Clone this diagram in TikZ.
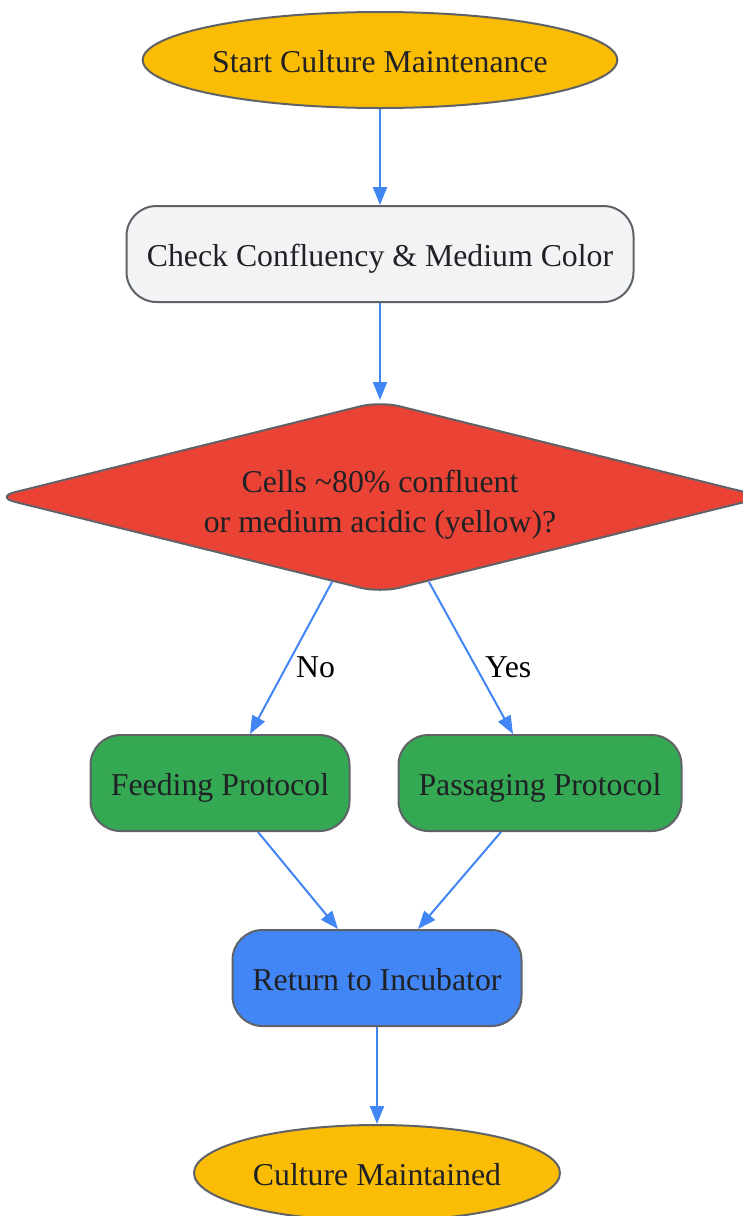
\documentclass[tikz,border=0pt]{standalone}
\usepackage{fontspec}
\setmainfont{Liberation Serif}
\usetikzlibrary{calc,shapes.geometric,arrows.meta,backgrounds}
\definecolor{gyellow}{HTML}{FBBC04}
\definecolor{glight}{HTML}{F1F3F4}
\definecolor{gred}{HTML}{EA4335}
\definecolor{ggreen}{HTML}{34A853}
\definecolor{gblue}{HTML}{4285F4}
\definecolor{gborder}{HTML}{5F6368}
\definecolor{gtext}{HTML}{202124}
\def\drawflow{\draw[color=gblue, line width=2pt, -{Triangle[length=18pt,width=14pt]}]}
\def\termnode{\node[ellipse,draw=gborder,line width=2pt,fill=gyellow,text=gtext,minimum height=96pt,text height=25pt,text depth=0pt]}
\def\stepnode{\node[rectangle,rounded corners=30pt,draw=gborder,line width=2pt,text=gtext,minimum height=96pt,text height=25pt,text depth=0pt]}
\tikzset{edgelabel/.style={pos=.56,anchor=west,text=black}}

\begin{document}
\begin{tikzpicture}[x=1pt,y=-1pt,inner sep=0pt,font=\fontsize{31.8}{40}\selectfont]
\useasboundingbox (0,0) rectangle (743,1216);

% -------- top of the chart ---------
\termnode[minimum width=474pt] (start) at (380,60) {Start Culture Maintenance};
\stepnode[fill=glight,minimum width=507pt] (check) at (380,254) {Check Confluency \& Medium Color};
\node[diamond,aspect=4,draw=gborder,line width=2pt,fill=gred,text=gtext,rounded corners=20pt,
  minimum width=770pt,minimum height=192pt] (dec) at (380,497)
  {\raisebox{-14pt}[0pt][0pt]{\begin{tabular}{@{}c@{}}Cells \textasciitilde80\% confluent\\or medium acidic (yellow)?\end{tabular}}};

% -------- the two protocols ---------
\stepnode[fill=ggreen,minimum width=259pt] (feed) at (220,783) {Feeding Protocol};
\stepnode[fill=ggreen,minimum width=283pt] (pass) at (540,783) {Passaging Protocol};

% -------- bottom of the chart ---------
\stepnode[fill=gblue,minimum width=289pt] (ret) at (377,978) {Return to Incubator};
\termnode[minimum width=366pt] (done) at (377,1173) {Culture Maintained};

% Now the arrows, kept under the shapes
\begin{scope}[on background layer]
\drawflow (start) -- (check);
\drawflow (check) -- (dec);
\drawflow ([xshift=-48pt,yshift=12pt]dec.south) -- node[edgelabel,xshift=9pt] {No} ([xshift=30pt]feed.north);
\drawflow ([xshift=49pt,yshift=12pt]dec.south) -- node[edgelabel,xshift=8pt] {Yes} ([xshift=-27pt]pass.north);
\drawflow ([xshift=38pt]feed.south) -- ([xshift=-39pt]ret.north);
\drawflow ([xshift=-39pt]pass.south) -- ([xshift=41pt]ret.north);
\drawflow (ret) -- (done);
\end{scope}
\end{tikzpicture}
\end{document}
